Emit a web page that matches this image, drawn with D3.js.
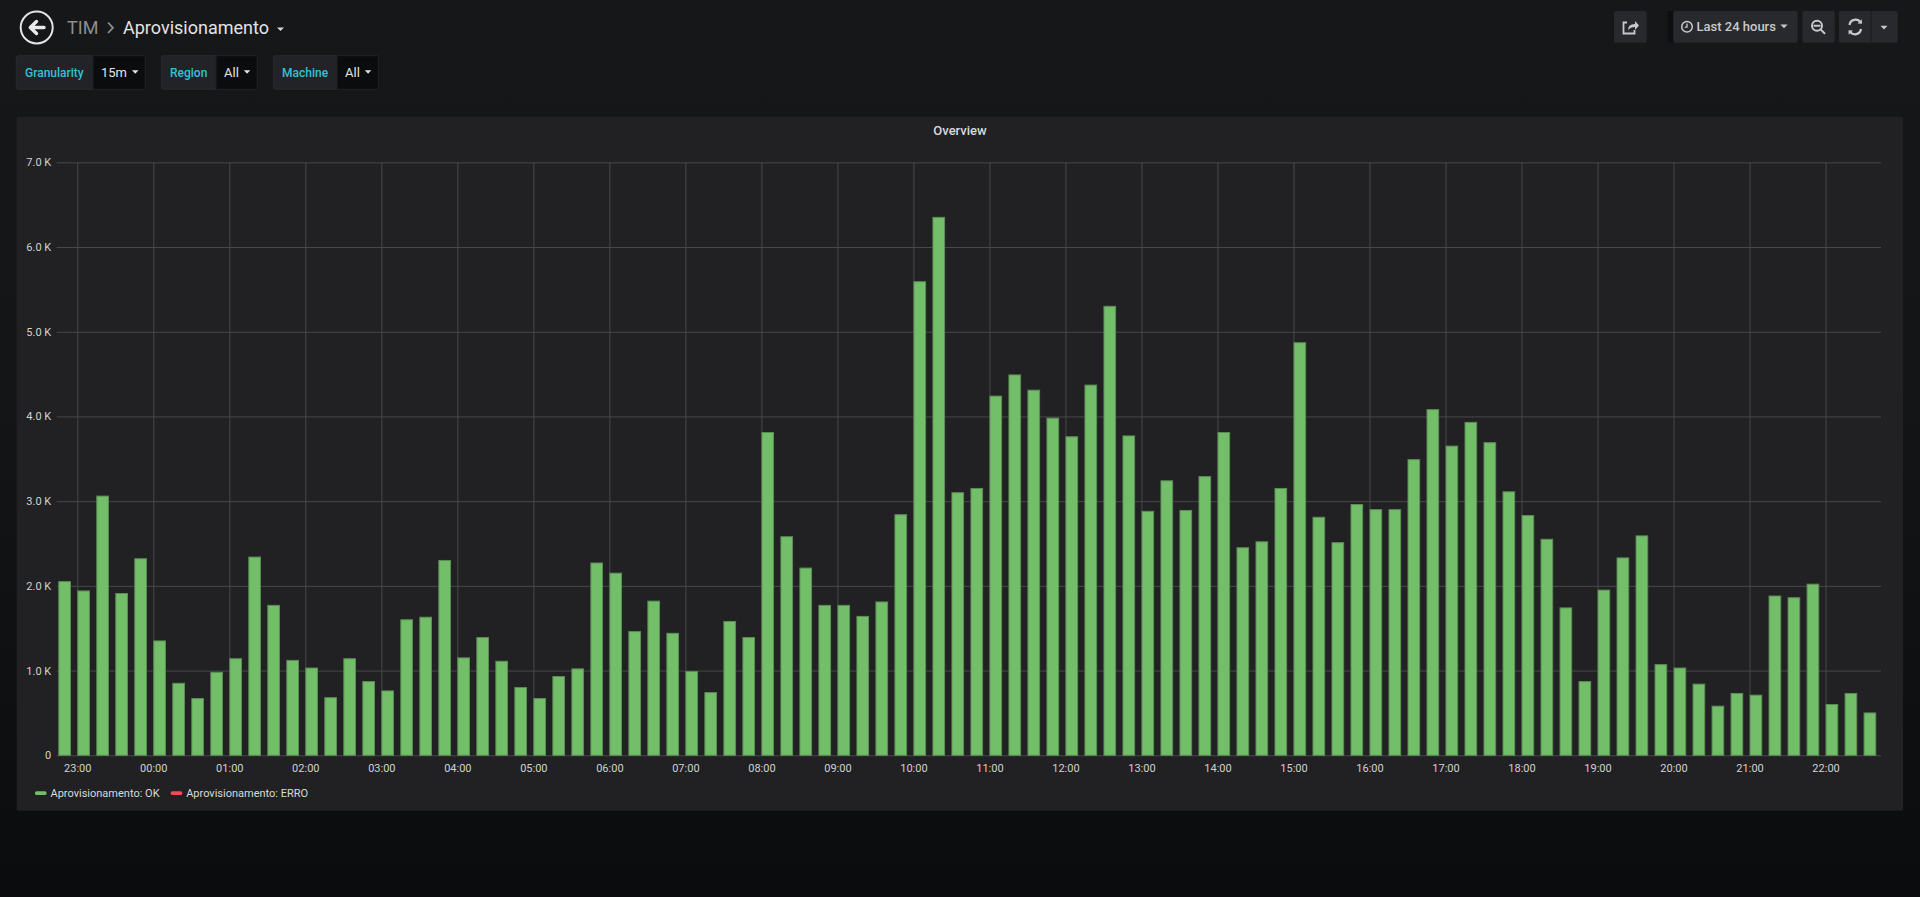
<!DOCTYPE html>
<html>
<head>
<meta charset="utf-8">
<script src="https://cdn.jsdelivr.net/npm/d3@7"></script>
<style>
  html, body { margin: 0; padding: 0; }
  body {
    width: 1920px; height: 897px; overflow: hidden;
    background: linear-gradient(180deg, #161719 0px, #141517 400px, #0b0c0e 897px);
    font-family: Roboto, "Helvetica Neue", Arial, sans-serif;
  }
  svg text { font-family: Roboto, "Helvetica Neue", Arial, sans-serif; }
</style>
</head>
<body>
<svg id="page" width="1920" height="897"></svg>
<script>
// ---- data ----
const seriesNames = ["Aprovisionamento: OK", "Aprovisionamento: ERRO"];
const seriesColors = ["#73bf69", "#f2495c"];

// one value per 15 minute slot, first slot 22:45
const okValues = [
  2050, 1940, 3060, 1910, 2320, 1350, 850, 670, 980, 1140, 2340, 1770,
  1120, 1030, 680, 1140, 870, 760, 1600, 1630, 2300, 1150, 1390, 1110,
  800, 670, 930, 1020, 2270, 2150, 1460, 1820, 1440, 990, 740, 1580,
  1390, 3810, 2580, 2210, 1770, 1770, 1640, 1810, 2840, 5590, 6350, 3100,
  3150, 4240, 4490, 4310, 3980, 3760, 4370, 5300, 3770, 2880, 3240, 2890,
  3290, 3810, 2450, 2520, 3150, 4870, 2810, 2510, 2960, 2900, 2900, 3490,
  4080, 3650, 3930, 3690, 3110, 2830, 2550, 1740, 870, 1950, 2330, 2590,
  1070, 1030, 840, 580, 730, 710, 1880, 1860, 2020, 600, 730, 500
];
const erroValues = []; // no ERRO points in the range

const slotStart = Date.UTC(2019, 4, 21, 22, 45);
const slotMinutes = 15;
const yTicks = [0, 1000, 2000, 3000, 4000, 5000, 6000, 7000];

const variables = [
  { label: "Granularity", value: "15m" },
  { label: "Region", value: "All" },
  { label: "Machine", value: "All" }
];

// ---- layout ----
const svg = d3.select("#page");
const M = 60 * 1000;
const plot = { left: 56.7, right: 1881, top: 162.3, bottom: 755.3 };

// ---- header ----
const head = svg.append("g");
head.append("circle")
  .attr("cx", 36.7).attr("cy", 27.5).attr("r", 16)
  .attr("fill", "none").attr("stroke", "#e3e3e3").attr("stroke-width", 2);
head.append("path")
  .attr("d", "M44,27.5 H31 M36.5,21.5 L30.3,27.5 L36.5,33.5")
  .attr("fill", "none").attr("stroke", "#e9e9e9")
  .attr("stroke-width", 3.4).attr("stroke-linecap", "round").attr("stroke-linejoin", "round");
head.append("text")
  .attr("x", 67).attr("y", 33.5)
  .attr("font-size", 18).attr("fill", "#8e8e8e")
  .text("TIM");
head.append("path")
  .attr("d", "M108,22.5 L113,27.8 L108,33")
  .attr("fill", "none").attr("stroke", "#8e8e8e").attr("stroke-width", 1.8);
head.append("text")
  .attr("x", 123).attr("y", 33.5)
  .attr("font-size", 18).attr("fill", "#e3e3e3")
  .text("Aprovisionamento");
head.append("path")
  .attr("d", "M277,27.5 h7 l-3.5,3.5 z")
  .attr("fill", "#d8d9da");

// top right buttons
const btnFill = "#28292c";
function button(x, w){
  return head.append("rect")
    .attr("x", x).attr("y", 11).attr("width", w).attr("height", 31.7)
    .attr("rx", 2).attr("fill", btnFill);
}
const iconCol = "#c8c9ca";
button(1614, 32.7);
head.append("path")
  .attr("d", "M1627,22.5 h-3.5 v11 h11 v-3.5")
  .attr("fill", "none").attr("stroke", iconCol).attr("stroke-width", 1.8);
head.append("path")
  .attr("d", "M1628,30 q0,-6 7,-6 v-3 l4,4.5 l-4,4.5 v-3 q-4.5,0 -7,3 z")
  .attr("fill", iconCol);

head.append("rect")
  .attr("x", 1667.5).attr("y", 11).attr("width", 6).attr("height", 31.7)
  .attr("fill", "#0e0f11");
button(1673.3, 124.4);
head.append("circle")
  .attr("cx", 1687).attr("cy", 26.8).attr("r", 5.3)
  .attr("fill", "none").attr("stroke", iconCol).attr("stroke-width", 1.5);
head.append("path")
  .attr("d", "M1687,23.6 V27.2 H1684.8")
  .attr("fill", "none").attr("stroke", iconCol).attr("stroke-width", 1.3);
head.append("text")
  .attr("x", 1696.5).attr("y", 31.3)
  .attr("font-size", 13).attr("font-weight", 500).attr("fill", iconCol)
  .text("Last 24 hours");
head.append("path")
  .attr("d", "M1780.5,24.5 h7 l-3.5,3.8 z").attr("fill", iconCol);

button(1802.3, 32.4);
head.append("circle")
  .attr("cx", 1817).attr("cy", 25.8).attr("r", 5)
  .attr("fill", "none").attr("stroke", iconCol).attr("stroke-width", 2);
head.append("path")
  .attr("d", "M1820.6,29.4 L1824.5,33.3 M1814.4,25.8 H1819.6")
  .attr("fill", "none").attr("stroke", iconCol).attr("stroke-width", 2).attr("stroke-linecap", "round");

button(1839, 58.7);
head.append("rect")
  .attr("x", 1870.5).attr("y", 11).attr("width", 1).attr("height", 31.7).attr("fill", "#1c1d20");
head.append("path")
  .attr("d", "M1849.5,25 a6,6 0 0 1 11,-2.5 M1861,29 a6,6 0 0 1 -11,2.5")
  .attr("fill", "none").attr("stroke", iconCol).attr("stroke-width", 2.2);
head.append("path")
  .attr("d", "M1857.5,23.5 l4.5,0.3 l-0.2,-4.5 z M1853,30.5 l-4.5,-0.3 l0.2,4.5 z")
  .attr("fill", iconCol);
head.append("path")
  .attr("d", "M1880.5,25.8 h7 l-3.5,3.6 z").attr("fill", iconCol);

// ---- template variables ----
const varGeom = [
  { x: 16.3, split: 93, end: 145.3 },
  { x: 161.3, split: 216, end: 257.3 },
  { x: 273.3, split: 337, end: 378.3 }
];
const vars = svg.append("g");
variables.forEach(function(v, i){
  const g = varGeom[i];
  vars.append("rect")
    .attr("x", g.x).attr("y", 55.7).attr("width", g.end - g.x).attr("height", 33.6)
    .attr("rx", 2).attr("fill", "#222326").attr("stroke", "#292a2d");
  vars.append("rect")
    .attr("x", g.split).attr("y", 55.7).attr("width", g.end - g.split).attr("height", 33.6)
    .attr("fill", "#0b0c0e").attr("stroke", "#1f2023");
  vars.append("text")
    .attr("x", g.x + 8.7).attr("y", 76.8)
    .attr("font-size", 12).attr("font-weight", 500).attr("fill", "#31c0da")
    .text(v.label);
  const t = vars.append("text")
    .attr("x", g.split + 8).attr("y", 77)
    .attr("font-size", 13).attr("fill", "#e3e3e3")
    .text(v.value);
  const tw = t.node().getComputedTextLength();
  vars.append("path")
    .attr("d", "M" + (g.split + 8 + tw + 5) + ",70.3 h6.5 l-3.25,3.4 z")
    .attr("fill", "#e3e3e3");
});

// ---- panel ----
svg.append("rect")
  .attr("x", 16.7).attr("y", 116.7).attr("width", 1903 - 16.7).attr("height", 810.7 - 116.7)
  .attr("rx", 2).attr("fill", "#212124");
svg.append("text")
  .attr("x", 960).attr("y", 135.3).attr("text-anchor", "middle")
  .attr("font-size", 13).attr("font-weight", 500).attr("fill", "#d8d9da")
  .text("Overview");

const points = okValues.map(function(v, i){
  return { t: new Date(slotStart + i * slotMinutes * M), v: v };
});

const t0 = new Date(slotStart - 1.25 * M);
const x = d3.scaleUtc()
  .domain([t0, new Date(+t0 + 24 * 60 * M)])
  .range([plot.left, plot.right]);
const y = d3.scaleLinear()
  .domain([0, d3.max(yTicks)])
  .range([plot.bottom, plot.top]);

const gridCol = "#47484b";
const tickCol = "#d0d1d2";

const yAxis = svg.append("g")
  .attr("transform", "translate(" + plot.left + ",0)")
  .call(d3.axisLeft(y)
    .tickValues(yTicks)
    .tickSize(-(plot.right - plot.left))
    .tickPadding(5.5)
    .tickFormat(function(d){ return d === 0 ? "0" : (d / 1000).toFixed(1) + " K"; }));
yAxis.select(".domain").remove();
yAxis.selectAll("line").attr("stroke", gridCol);
yAxis.selectAll("text")
  .attr("font-size", 11).attr("fill", tickCol)
  .style("font-family", "Roboto, sans-serif");

const xAxis = svg.append("g")
  .attr("transform", "translate(0," + plot.bottom + ")")
  .call(d3.axisBottom(x)
    .ticks(d3.utcHour.every(1))
    .tickSize(-(plot.bottom - plot.top))
    .tickPadding(8.5)
    .tickFormat(d3.utcFormat("%H:%M")));
xAxis.select(".domain").remove();
xAxis.selectAll("line").attr("stroke", gridCol);
xAxis.selectAll("text")
  .attr("font-size", 11).attr("fill", tickCol)
  .style("font-family", "Roboto, sans-serif");

// bars
const barMinutes = 10;
svg.append("g")
  .selectAll("rect")
  .data(points)
  .join("rect")
    .attr("x", function(d){ return x(d.t) + 0.5; })
    .attr("y", function(d){ return y(d.v); })
    .attr("width", function(d){ return x(new Date(+d.t + barMinutes * M)) - x(d.t) - 1; })
    .attr("height", function(d){ return y(0) - y(d.v); })
    .attr("fill", seriesColors[0])
    .attr("stroke", "#5d8d56").attr("stroke-width", 1);

// legend
const legend = svg.append("g");
const legendX = [35, 170.7];
seriesNames.forEach(function(name, i){
  legend.append("rect")
    .attr("x", legendX[i]).attr("y", 791.3).attr("width", 11.5).attr("height", 3.6)
    .attr("rx", 1.5).attr("fill", seriesColors[i]);
  legend.append("text")
    .attr("x", legendX[i] + 15.5).attr("y", 797)
    .attr("font-size", 11).attr("fill", "#d8d9da")
    .text(name);
});
</script>
</body>
</html>
